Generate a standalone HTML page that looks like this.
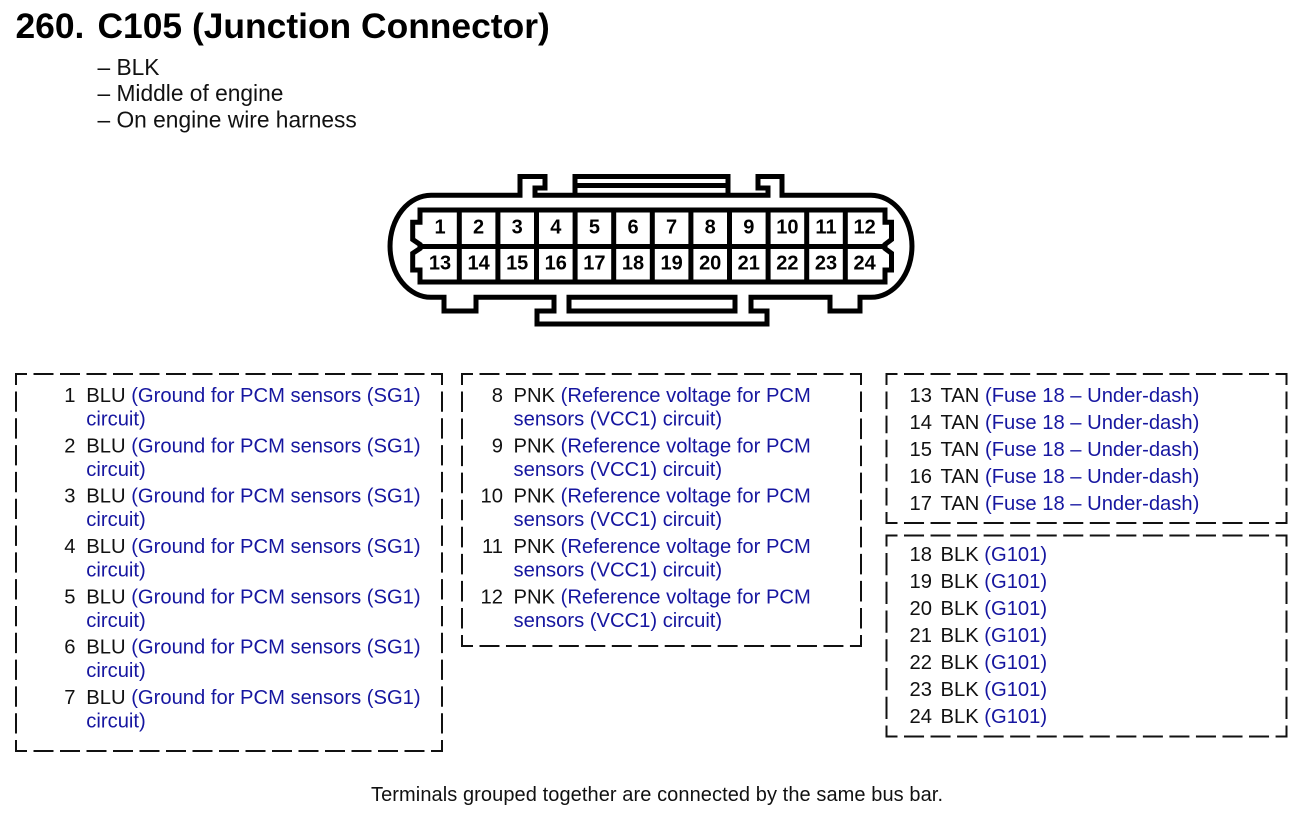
<!DOCTYPE html>
<html><head><meta charset="utf-8"><title>C105 Junction Connector</title>
<style>
html,body{margin:0;padding:0;background:#fff}
svg{display:block}
text{font-family:"Liberation Sans",Arial,sans-serif;fill:#111}
.t{font-size:20.2px}
.b{fill:#1616a0}
.n{font-size:20.2px;text-anchor:end}
.d{font-size:20px;font-weight:bold;text-anchor:middle;fill:#000}
.s{font-size:22.75px}
.box line{stroke:#111;stroke-width:2}
.c{fill:none;stroke:#000;stroke-width:5;stroke-linejoin:miter}
</style></head><body>
<svg width="1302" height="814" viewBox="0 0 1302 814" xmlns="http://www.w3.org/2000/svg">
<rect width="1302" height="814" fill="#fff"/>
<text x="15.500" y="38" font-size="35.400" font-weight="bold" style="fill:#000">260.</text>
<text x="97.500" y="38" font-size="35.400" font-weight="bold" style="fill:#000">C105 (Junction Connector)</text>
<text class="s" x="97.500" y="75">– BLK</text>
<text class="s" x="97.500" y="101">– Middle of engine</text>
<text class="s" x="97.500" y="127.500">– On engine wire harness</text>

<!-- connector shell -->
<path class="c" d="M431 195.300 H520 V176.500 H545 V188 H535 V195.300 H768 V188 H758 V176.500 H782 V195.300 H871 A41 51 0 0 1 871 297.300 H860 V311 H830 V297.300 H751 V311 H767 V324 H537 V311 H554 V297.300 H476 V311 H444 V297.300 H431 A41 51 0 0 1 431 195.300 Z"/>
<path class="c" d="M575 195.300 V176.500 H728 V195.300 M575 185.500 H728"/>
<path class="c" d="M735 297.300 V311 H569 V297.300 H735 Z"/>
<!-- cavity grid -->
<path class="c" d="M420 210 H885 V222.300 H891.500 V239.500 L885 244.500 V248.500 L891.500 253.300 V270 H885 V282 H420 V270 H412.700 V253.300 L420 248.500 V244.500 L412.700 239.500 V222.300 H420 Z"/>
<path class="c" d="M418 246.500 H887 M459.300 210 V282 M497.900 210 V282 M536.500 210 V282 M575.100 210 V282 M613.700 210 V282 M652.300 210 V282 M690.900 210 V282 M729.500 210 V282 M768.100 210 V282 M806.700 210 V282 M845.300 210 V282"/>
<g>
<text class="d" x="440" y="233.500">1</text><text class="d" x="478.600" y="233.500">2</text><text class="d" x="517.200" y="233.500">3</text><text class="d" x="555.800" y="233.500">4</text><text class="d" x="594.400" y="233.500">5</text><text class="d" x="633" y="233.500">6</text><text class="d" x="671.600" y="233.500">7</text><text class="d" x="710.200" y="233.500">8</text><text class="d" x="748.800" y="233.500">9</text><text class="d" x="787.400" y="233.500">10</text><text class="d" x="826" y="233.500">11</text><text class="d" x="864.600" y="233.500">12</text>
<text class="d" x="440" y="269.500">13</text><text class="d" x="478.600" y="269.500">14</text><text class="d" x="517.200" y="269.500">15</text><text class="d" x="555.800" y="269.500">16</text><text class="d" x="594.400" y="269.500">17</text><text class="d" x="633" y="269.500">18</text><text class="d" x="671.600" y="269.500">19</text><text class="d" x="710.200" y="269.500">20</text><text class="d" x="748.800" y="269.500">21</text><text class="d" x="787.400" y="269.500">22</text><text class="d" x="826" y="269.500">23</text><text class="d" x="864.600" y="269.500">24</text>
</g>

<!-- dashed boxes -->
<g class="box">
<line x1="15" y1="374" x2="443" y2="374" stroke-dasharray="20 6.500" stroke-dashoffset="8"/>
<line x1="15" y1="751" x2="443" y2="751" stroke-dasharray="20 6.500" stroke-dashoffset="8"/>
<line x1="16" y1="373" x2="16" y2="752" stroke-dasharray="20.310 6.500" stroke-dashoffset="8.310"/>
<line x1="442" y1="373" x2="442" y2="752" stroke-dasharray="20.310 6.500" stroke-dashoffset="8.310"/>

<line x1="461" y1="374" x2="862" y2="374" stroke-dasharray="19.960 6.500" stroke-dashoffset="7.960"/>
<line x1="461" y1="646" x2="862" y2="646" stroke-dasharray="19.960 6.500" stroke-dashoffset="7.960"/>
<line x1="462" y1="373" x2="462" y2="647" stroke-dasharray="20.560 6.500" stroke-dashoffset="8.560"/>
<line x1="861" y1="373" x2="861" y2="647" stroke-dasharray="20.560 6.500" stroke-dashoffset="8.560"/>

<line x1="885.500" y1="374" x2="1287.500" y2="374" stroke-dasharray="20.040 6.500" stroke-dashoffset="8.040"/>
<line x1="885.500" y1="523" x2="1287.500" y2="523" stroke-dasharray="20.040 6.500" stroke-dashoffset="8.040"/>
<line x1="886.500" y1="373" x2="886.500" y2="524" stroke-dasharray="17.600 6.500" stroke-dashoffset="5.600"/>
<line x1="1286.500" y1="373" x2="1286.500" y2="524" stroke-dasharray="17.600 6.500" stroke-dashoffset="5.600"/>

<line x1="885.500" y1="535.500" x2="1287.500" y2="535.500" stroke-dasharray="20.040 6.500" stroke-dashoffset="8.040"/>
<line x1="885.500" y1="736.500" x2="1287.500" y2="736.500" stroke-dasharray="20.040 6.500" stroke-dashoffset="8.040"/>
<line x1="886.500" y1="534.500" x2="886.500" y2="737.500" stroke-dasharray="22.250 6.500" stroke-dashoffset="10.250"/>
<line x1="1286.500" y1="534.500" x2="1286.500" y2="737.500" stroke-dasharray="22.250 6.500" stroke-dashoffset="10.250"/>
</g>

<!-- box 1 -->
<g>
<text class="n" x="75.500" y="402">1</text><text class="t" x="86.300" y="402">BLU <tspan class="b">(Ground for PCM sensors (SG1)</tspan></text><text class="t b" x="86.300" y="425.500">circuit)</text>
<text class="n" x="75.500" y="452.300">2</text><text class="t" x="86.300" y="452.300">BLU <tspan class="b">(Ground for PCM sensors (SG1)</tspan></text><text class="t b" x="86.300" y="475.800">circuit)</text>
<text class="n" x="75.500" y="502.700">3</text><text class="t" x="86.300" y="502.700">BLU <tspan class="b">(Ground for PCM sensors (SG1)</tspan></text><text class="t b" x="86.300" y="526.200">circuit)</text>
<text class="n" x="75.500" y="553">4</text><text class="t" x="86.300" y="553">BLU <tspan class="b">(Ground for PCM sensors (SG1)</tspan></text><text class="t b" x="86.300" y="576.500">circuit)</text>
<text class="n" x="75.500" y="603.300">5</text><text class="t" x="86.300" y="603.300">BLU <tspan class="b">(Ground for PCM sensors (SG1)</tspan></text><text class="t b" x="86.300" y="626.800">circuit)</text>
<text class="n" x="75.500" y="653.700">6</text><text class="t" x="86.300" y="653.700">BLU <tspan class="b">(Ground for PCM sensors (SG1)</tspan></text><text class="t b" x="86.300" y="677.200">circuit)</text>
<text class="n" x="75.500" y="704">7</text><text class="t" x="86.300" y="704">BLU <tspan class="b">(Ground for PCM sensors (SG1)</tspan></text><text class="t b" x="86.300" y="727.500">circuit)</text>
</g>
<!-- box 2 -->
<g>
<text class="n" x="503" y="402">8</text><text class="t" x="513.500" y="402">PNK <tspan class="b">(Reference voltage for PCM</tspan></text><text class="t b" x="513.500" y="425.500">sensors (VCC1) circuit)</text>
<text class="n" x="503" y="452.300">9</text><text class="t" x="513.500" y="452.300">PNK <tspan class="b">(Reference voltage for PCM</tspan></text><text class="t b" x="513.500" y="475.800">sensors (VCC1) circuit)</text>
<text class="n" x="503" y="502.700">10</text><text class="t" x="513.500" y="502.700">PNK <tspan class="b">(Reference voltage for PCM</tspan></text><text class="t b" x="513.500" y="526.200">sensors (VCC1) circuit)</text>
<text class="n" x="503" y="553">11</text><text class="t" x="513.500" y="553">PNK <tspan class="b">(Reference voltage for PCM</tspan></text><text class="t b" x="513.500" y="576.500">sensors (VCC1) circuit)</text>
<text class="n" x="503" y="603.300">12</text><text class="t" x="513.500" y="603.300">PNK <tspan class="b">(Reference voltage for PCM</tspan></text><text class="t b" x="513.500" y="626.800">sensors (VCC1) circuit)</text>
</g>
<!-- box 3 -->
<g>
<text class="n" x="932" y="402">13</text><text class="t" x="940.500" y="402">TAN <tspan class="b">(Fuse 18 – Under-dash)</tspan></text>
<text class="n" x="932" y="429">14</text><text class="t" x="940.500" y="429">TAN <tspan class="b">(Fuse 18 – Under-dash)</tspan></text>
<text class="n" x="932" y="456">15</text><text class="t" x="940.500" y="456">TAN <tspan class="b">(Fuse 18 – Under-dash)</tspan></text>
<text class="n" x="932" y="483">16</text><text class="t" x="940.500" y="483">TAN <tspan class="b">(Fuse 18 – Under-dash)</tspan></text>
<text class="n" x="932" y="510">17</text><text class="t" x="940.500" y="510">TAN <tspan class="b">(Fuse 18 – Under-dash)</tspan></text>
</g>
<!-- box 4 -->
<g>
<text class="n" x="932" y="561">18</text><text class="t" x="940.500" y="561">BLK <tspan class="b">(G101)</tspan></text>
<text class="n" x="932" y="588">19</text><text class="t" x="940.500" y="588">BLK <tspan class="b">(G101)</tspan></text>
<text class="n" x="932" y="615">20</text><text class="t" x="940.500" y="615">BLK <tspan class="b">(G101)</tspan></text>
<text class="n" x="932" y="642">21</text><text class="t" x="940.500" y="642">BLK <tspan class="b">(G101)</tspan></text>
<text class="n" x="932" y="669">22</text><text class="t" x="940.500" y="669">BLK <tspan class="b">(G101)</tspan></text>
<text class="n" x="932" y="696">23</text><text class="t" x="940.500" y="696">BLK <tspan class="b">(G101)</tspan></text>
<text class="n" x="932" y="723">24</text><text class="t" x="940.500" y="723">BLK <tspan class="b">(G101)</tspan></text>
</g>
<text x="371" y="801" font-size="20" textLength="572">Terminals grouped together are connected by the same bus bar.</text>
</svg>
</body></html>
